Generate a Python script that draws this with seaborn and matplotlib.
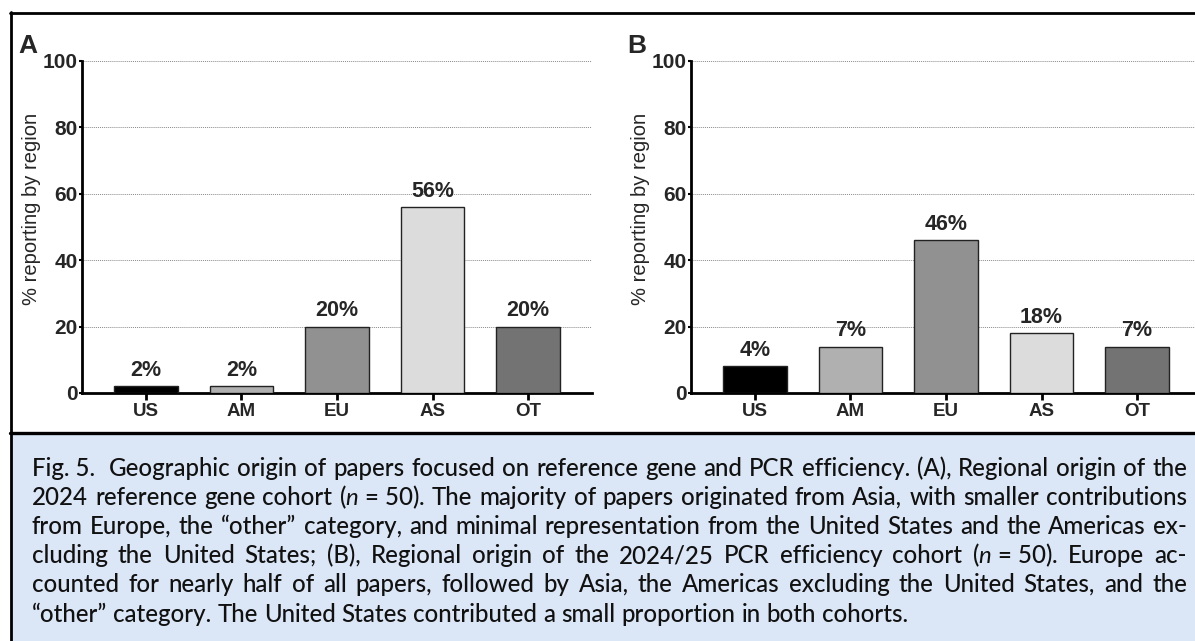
import matplotlib
matplotlib.use("Agg")
import matplotlib.pyplot as plt
import seaborn as sns
import pandas as pd
from matplotlib.patches import Rectangle
from matplotlib.lines import Line2D

# Regional shares (percent of papers) for the two cohorts
regions = ["US", "AM", "EU", "AS", "OT"]
share_a = [2, 2, 20, 56, 20]
share_b = [8, 14, 46, 18, 14]
labels_a = ["2%", "2%", "20%", "56%", "20%"]
labels_b = ["4%", "7%", "46%", "18%", "7%"]
bar_colors = ["#000000", "#b0b0b0", "#919191", "#dcdcdc", "#737373"]
y_ticks = [0, 20, 40, 60, 80, 100]

caption_lines = [
    "Fig.~5.  Geographic origin of papers focused on reference gene and PCR efficiency. (A), Regional origin of the",
    "2024 reference gene cohort ($\\mathit{n}$~=~50). The majority of papers originated from Asia, with smaller contributions",
    "from Europe, the \u201cother\u201d category, and minimal representation from the United States and the Americas ex-",
    "cluding the United States; (B), Regional origin of the 2024/25 PCR efficiency cohort ($\\mathit{n}$~=~50). Europe ac-",
    "counted for nearly half of all papers, followed by Asia, the Americas excluding the United States, and the",
    "\u201cother\u201d category. The United States contributed a small proportion in both cohorts.",
]

W, H = 1195, 641
sns.set_theme(style="white")
plt.rcParams["font.family"] = ["Liberation Sans", "DejaVu Sans"]
plt.rcParams["mathtext.fontset"] = "custom"
plt.rcParams["mathtext.it"] = "Lato:italic"
plt.rcParams["mathtext.rm"] = "Lato"

fig = plt.figure(figsize=(W / 100, H / 100), dpi=100)
fig.patch.set_facecolor("white")


def px_box(left, right, top, bottom):
    return [left / W, 1 - bottom / H, (right - left) / W, (bottom - top) / H]


# caption panel background and frame
fig.add_artist(Rectangle((11 / W, 0), 1, (641 - 433) / H, transform=fig.transFigure,
                         facecolor="#dbe6f7", edgecolor="none", zorder=0))
fig.add_artist(Line2D([10 / W, 1], [1 - 13 / H] * 2, color="black", lw=2.0, zorder=5))
fig.add_artist(Line2D([10.5 / W] * 2, [0, 1 - 12 / H], color="black", lw=2.0, zorder=5))
fig.add_artist(Line2D([10 / W, 1], [1 - 433 / H] * 2, color="black", lw=2.4, zorder=5))

ax_a = fig.add_axes(px_box(82, 592, 61, 393))
ax_b = fig.add_axes(px_box(691, 1201, 61, 393))


def draw_panel(ax, values, labels):
    df = pd.DataFrame({"region": regions, "share": values})
    sns.barplot(data=df, x="region", y="share", hue="region", palette=bar_colors,
                legend=False, width=0.66, edgecolor="#222222", linewidth=1.0,
                saturation=1, ax=ax, zorder=3)
    ax.set_xlim(-0.67, 4.67)
    ax.set_ylim(0, 100)
    ax.set_yticks(y_ticks, labels=[str(t) for t in y_ticks], fontweight="bold", fontsize=15)
    ax.set_xticks(range(len(regions)), labels=regions, fontweight="bold", fontsize=13.5)
    ax.tick_params(axis="y", left=True, length=2, width=1.5, pad=1, color="black")
    ax.tick_params(axis="x", bottom=True, length=5, width=2, pad=2, color="black")
    ax.set_axisbelow(True)
    ax.yaxis.grid(True, linestyle=(0, (1, 1)), color="#8a8a8a", linewidth=0.7)
    ax.xaxis.grid(False)
    for side in ("top", "right"):
        ax.spines[side].set_visible(False)
    for side in ("left", "bottom"):
        ax.spines[side].set_linewidth(2)
        ax.spines[side].set_color("black")
    ax.set_facecolor("none")
    ax.set_xlabel("")
    ax.set_ylabel("% reporting by region", fontsize=14.5)
    ax.yaxis.set_label_coords(-41 / 510, (393 - 209) / 332)
    for i, (v, lab) in enumerate(zip(values, labels)):
        ax.annotate(lab, (i, v), xytext=(0, 4), textcoords="offset points",
                    ha="center", va="bottom", fontsize=15.5, fontweight="bold", zorder=4)


draw_panel(ax_a, share_a, labels_a)
draw_panel(ax_b, share_b, labels_b)

fig.text(18 / W, 1 - 53 / H, "A", fontsize=19, fontweight="bold", va="baseline")
fig.text(627 / W, 1 - 53 / H, "B", fontsize=19, fontweight="bold", va="baseline")

# justified caption text
renderer = fig.canvas.get_renderer()
cap_family = ["Lato", "DejaVu Sans"]
cap_weight = "medium"
x_left, x_right = 32, 1187
baselines = [476, 505, 534, 563, 592, 622]


def split_words(line):
    words, gaps = [], []
    for tok in line.split(" "):
        if tok == "":
            gaps[-1] += 1
            continue
        words.append(tok.replace("~", " "))
        gaps.append(1)
    return words, gaps[:-1]


def word_width(word, size):
    t = fig.text(0, 0, word, family=cap_family, fontsize=size, fontweight=cap_weight)
    w = t.get_window_extent(renderer).width
    t.remove()
    return w


size = 18.5
while True:
    space_w = word_width("a a", size) - word_width("aa", size)
    widest = 0
    for line in caption_lines:
        words, gaps = split_words(line)
        tot = sum(word_width(w, size) for w in words) + space_w * sum(gaps)
        widest = max(widest, tot)
    if widest <= (x_right - x_left) * 0.995 or size < 10:
        break
    size -= 0.25

for li, line in enumerate(caption_lines):
    words, gaps = split_words(line)
    widths = [word_width(w, size) for w in words]
    if li < len(caption_lines) - 1:
        gap_unit = (x_right - x_left - sum(widths)) / max(sum(gaps), 1)
    else:
        gap_unit = space_w
    x = x_left
    for k, (w, wd) in enumerate(zip(words, widths)):
        fig.text(x / W, 1 - baselines[li] / H, w, family=cap_family, fontsize=size,
                 fontweight=cap_weight, color="#111111", ha="left", va="baseline")
        if k < len(gaps):
            x += wd + gap_unit * gaps[k]

fig.savefig("out.png", dpi=100)
